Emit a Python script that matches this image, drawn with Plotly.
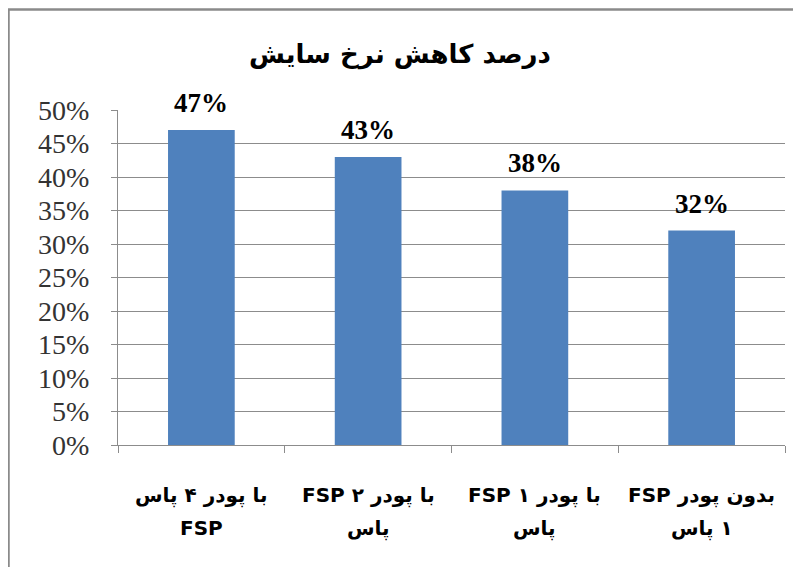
import plotly.graph_objects as go

# ---- data ----
chart_title = "درصد کاهش نرخ سایش"
label_line1 = ["با پودر ۴ پاس", "با پودر ۲ FSP", "با پودر ۱ FSP", "بدون پودر FSP"]
label_line2 = ["FSP", "پاس", "پاس", "۱ پاس"]
values = [0.47, 0.43, 0.38, 0.32]
value_labels = ["47%", "43%", "38%", "32%"]
y_tick_vals = [0, 0.05, 0.10, 0.15, 0.20, 0.25, 0.30, 0.35, 0.40, 0.45, 0.50]
y_tick_text = ["0%", "5%", "10%", "15%", "20%", "25%", "30%", "35%", "40%", "45%", "50%"]

RLE, PDF = "\u202B", "\u202C"
categories = [f"{a} {b}" for a, b in zip(label_line1, label_line2)]

BAR = "#4F81BD"
GRID = "#8c8c8c"
SERIF = "Liberation Serif, Times New Roman, serif"
SANS = "DejaVu Sans, Arial, sans-serif"

fig = go.Figure(
    go.Bar(x=categories, y=values, marker_color=BAR, marker_line_width=0,
           width=0.4, hoverinfo="skip")
)

annotations = []
for cat, v, lab in zip(categories, values, value_labels):
    annotations.append(dict(x=cat, y=v, xref="x", yref="y", text=f"<b>{lab}</b>",
                            showarrow=False, yanchor="middle", yshift=27,
                            font=dict(family=SERIF, size=27, color="#000")))
for cat, l1, l2 in zip(categories, label_line1, label_line2):
    annotations.append(dict(x=cat, y=0, xref="x", yref="y", text=f"<b>{RLE}{l1}{PDF}</b>",
                            showarrow=False, yanchor="middle", yshift=-50,
                            font=dict(family=SANS, size=20, color="#000")))
    annotations.append(dict(x=cat, y=0, xref="x", yref="y", text=f"<b>{RLE}{l2}{PDF}</b>",
                            showarrow=False, yanchor="middle", yshift=-83,
                            font=dict(family=SANS, size=20, color="#000")))

# page body adds an 8px offset; figure is sized to fit the 801x567 window
W, H = 793, 559
L, R, T, B = 110, 16, 102, 122
pw, ph = W - L - R, H - T - B

fig.update_layout(
    width=W, height=H,
    margin=dict(l=L, r=R, t=T, b=B),
    paper_bgcolor="white", plot_bgcolor="white",
    showlegend=False,
    title=dict(text=f"<b>{chart_title}</b>", x=392 / W, xref="container", xanchor="center",
               y=1 - 46 / H, yref="container", yanchor="middle",
               font=dict(family=SANS, size=26, color="#000")),
    annotations=annotations,
    shapes=[dict(type="rect", xref="paper", yref="paper",
                 x0=(0.5 - L) / pw, x1=(W + 20 - L) / pw,
                 y0=-(B + 20) / ph, y1=((H - B) - 1.5) / ph,
                 line=dict(color="#8a8a8a", width=2.5), layer="below")],
    xaxis=dict(showline=True, linecolor=GRID, linewidth=1, ticks="outside",
               tickson="boundaries", ticklen=7, tickcolor=GRID,
               showticklabels=False, showgrid=False, zeroline=False, fixedrange=True),
    yaxis=dict(range=[0, 0.5], tickvals=y_tick_vals, ticktext=y_tick_text,
               showgrid=True, gridcolor=GRID, gridwidth=1, zeroline=False,
               showline=True, linecolor=GRID, linewidth=1, ticks="outside",
               ticklen=6, tickcolor=GRID, ticklabelstandoff=16,
               tickfont=dict(family=SERIF, size=28, color="#333"), fixedrange=True),
)

fig.write_html("out.html")
